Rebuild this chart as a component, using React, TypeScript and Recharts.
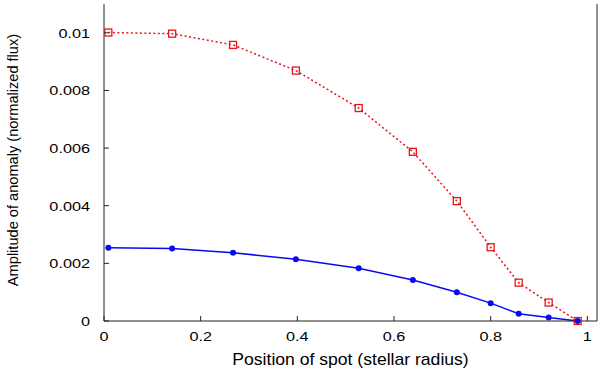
import { LineChart, Line, XAxis, YAxis } from "recharts";

const positions = [0.009, 0.141, 0.267, 0.397, 0.527, 0.639, 0.73, 0.8, 0.858, 0.92, 0.98];
const spotSmall = [0.00254, 0.00252, 0.00237, 0.00214, 0.00183, 0.00142, 0.001, 0.00062, 0.00025, 0.00012, 0];
const spotLarge = [0.01001, 0.00997, 0.00958, 0.00869, 0.00739, 0.00587, 0.00416, 0.00256, 0.00133, 0.00064, 0];
const xTicks = [0, 0.2, 0.4, 0.6, 0.8, 1];
const yTicks = [0, 0.002, 0.004, 0.006, 0.008, 0.01];

const data = positions.map((x, i) => ({ x, small: spotSmall[i], large: spotLarge[i] }));

const FONT = "'Liberation Sans', Arial, sans-serif";
const AXIS = "#222";
const RED = "#e8141c";
const BLUE = "#0a0af0";

const fmt = (v: number) => String(v);

// gnuplot-ish labels look horizontally stretched, so widen the glyphs a bit
const BottomTick = (p: any) => (
  <g>
    <line x1={p.x} x2={p.x} y1={p.y} y2={p.y - 5} stroke={AXIS} />
    <text
      transform={`translate(${p.x},${p.y + 20}) scale(1.25,1)`}
      textAnchor="middle"
      fontSize={13}
      fontFamily={FONT}
      fill="#000"
    >
      {fmt(p.payload.value)}
    </text>
  </g>
);
const LeftTick = (p: any) => (
  <g>
    <line x1={p.x} x2={p.x + 5} y1={p.y} y2={p.y} stroke={AXIS} />
    <text
      transform={`translate(${p.x - 14},${p.y + 5}) scale(1.25,1)`}
      textAnchor="end"
      fontSize={13}
      fontFamily={FONT}
      fill="#000"
    >
      {fmt(p.payload.value)}
    </text>
  </g>
);
const TopTick = (p: any) => <line x1={p.x} x2={p.x} y1={p.y} y2={p.y + 5} stroke={AXIS} />;
const RightTick = (p: any) => <line x1={p.x} x2={p.x - 5} y1={p.y} y2={p.y} stroke={AXIS} />;

const XTitle = (p: any) => {
  const vb = p.viewBox;
  return (
    <text
      transform={`translate(${vb.x + vb.width / 2},${vb.y + 44}) scale(1.1,1)`}
      textAnchor="middle"
      fontSize={16}
      fontFamily={FONT}
      fill="#000"
    >
      Position of spot (stellar radius)
    </text>
  );
};
const YTitle = (p: any) => {
  const vb = p.viewBox;
  return (
    <text
      transform={`translate(17.5,${vb.y + vb.height / 2 - 2.5}) rotate(-90)`}
      textAnchor="middle"
      fontSize={14.6}
      fontFamily={FONT}
      fill="#000"
    >
      Amplitude of anomaly (normalized flux)
    </text>
  );
};

const Square = (p: any) => (
  <rect x={p.cx - 3.5} y={p.cy - 3.5} width={7} height={7} fill="none" stroke={RED} strokeWidth={1.3} />
);

export default function App() {
  return (
    <div style={{ position: "absolute", left: 0, top: 0 }}>
      <LineChart width={600} height={369} data={data} margin={{ top: 4, right: 0, bottom: 0, left: 0 }}>
        <XAxis
          dataKey="x"
          type="number"
          domain={[0, 1.02]}
          ticks={xTicks}
          height={48}
          tickSize={0}
          tickMargin={0}
          tickLine={false}
          stroke={AXIS}
          tick={<BottomTick />}
          label={{ content: <XTitle /> }}
        />
        <XAxis
          xAxisId="top"
          orientation="top"
          dataKey="x"
          type="number"
          domain={[0, 1.02]}
          ticks={xTicks}
          height={0}
          tickSize={0}
          tickMargin={0}
          tickLine={false}
          stroke={AXIS}
          tick={<TopTick />}
        />
        <YAxis
          type="number"
          domain={[0, 0.011]}
          ticks={yTicks}
          width={104}
          tickSize={0}
          tickMargin={0}
          tickLine={false}
          stroke={AXIS}
          tick={<LeftTick />}
          label={{ content: <YTitle /> }}
        />
        <YAxis
          yAxisId="right"
          orientation="right"
          type="number"
          domain={[0, 0.011]}
          ticks={yTicks}
          width={3}
          tickSize={0}
          tickMargin={0}
          tickLine={false}
          stroke={AXIS}
          tick={<RightTick />}
        />
        <Line
          dataKey="large"
          type="linear"
          stroke={RED}
          strokeWidth={1.5}
          strokeDasharray="2 2.5"
          dot={<Square />}
          isAnimationActive={false}
        />
        <Line
          dataKey="small"
          type="linear"
          stroke={BLUE}
          strokeWidth={1.5}
          dot={{ r: 3, fill: BLUE, stroke: BLUE, strokeWidth: 0 }}
          isAnimationActive={false}
        />
      </LineChart>
    </div>
  );
}
